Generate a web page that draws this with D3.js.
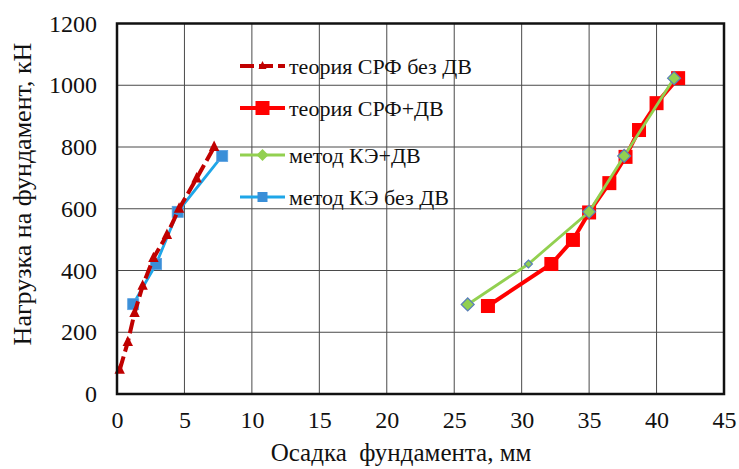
<!DOCTYPE html>
<html>
<head>
<meta charset="utf-8">
<script src="https://cdn.jsdelivr.net/npm/d3@7"></script>
<style>
  html, body { margin: 0; padding: 0; background: #fff; }
  svg { display: block; }
  svg text { font-family: 'Liberation Serif', 'DejaVu Serif', 'Noto Serif', 'FreeSerif', 'Tinos', 'Nimbus Roman', 'Times New Roman', Times, serif; fill: #111; white-space: pre; }
</style>
</head>
<body>
<svg id="chart" width="739" height="469"></svg>
<script>
// Settlement (mm) vs. load (kN) for four calculation approaches
const xTicks = [0, 5, 10, 15, 20, 25, 30, 35, 40, 45];
const yTicks = [0, 200, 400, 600, 800, 1000, 1200];

const srfNoDvX = [0.2, 0.8, 1.3, 1.9, 2.7, 3.7, 4.6, 5.9, 7.2];
const srfNoDvY = [78, 168, 262, 350, 440, 515, 600, 698, 800];

const srfDvX = [27.5, 32.2, 33.8, 35.0, 36.5, 37.7, 38.7, 40.0, 41.6];
const srfDvY = [285, 421, 499, 588, 683, 768, 855, 942, 1023];

const feDvX = [26.0, 30.5, 35.0, 37.6, 41.3];
const feDvY = [290, 421, 590, 771, 1023];

const feNoDvX = [1.2, 2.9, 4.5, 7.8];
const feNoDvY = [291, 421, 590, 771];

const seriesNames = ["теория СРФ без ДВ", "теория СРФ+ДВ", "метод КЭ+ДВ", "метод КЭ без ДВ"];

const svg = d3.select("#chart");
const x = d3.scaleLinear().domain([0, 45]).range([117, 724]);
const y = d3.scaleLinear().domain([0, 1200]).range([394, 23.5]);

// gridlines
svg.append("g").selectAll("line").data(xTicks.slice(1, -1)).join("line")
  .attr("x1", d => x(d)).attr("x2", d => x(d))
  .attr("y1", y(0)).attr("y2", y(1200))
  .attr("stroke", "#4a4a4a").attr("stroke-width", 1);
svg.append("g").selectAll("line").data(yTicks.slice(1, -1)).join("line")
  .attr("x1", x(0)).attr("x2", x(45))
  .attr("y1", d => y(d)).attr("y2", d => y(d))
  .attr("stroke", "#4a4a4a").attr("stroke-width", 1);

// axes (labels only, frame drawn separately)
const xAxis = svg.append("g").attr("transform", `translate(0,${y(0)})`)
  .call(d3.axisBottom(x).tickValues(xTicks).tickFormat(d3.format("d")).tickSize(0).tickPadding(17));
const yAxis = svg.append("g").attr("transform", `translate(${x(0)},0)`)
  .call(d3.axisLeft(y).tickValues(yTicks).tickFormat(d3.format("d")).tickSize(0).tickPadding(20));
[xAxis, yAxis].forEach(a => {
  a.attr("font-family", null).attr("font-size", 24);
  a.select(".domain").remove();
  a.selectAll("text").attr("fill", "#111");
});

const line = d3.line().x(d => x(d[0])).y(d => y(d[1]));
const zip = (a, b) => a.map((v, i) => [v, b[i]]);

const dataSrfNoDv = zip(srfNoDvX, srfNoDvY);
const dataSrfDv = zip(srfDvX, srfDvY);
const dataFeDv = zip(feDvX, feDvY);
const dataFeNoDv = zip(feNoDvX, feNoDvY);

const plot = svg.append("g");
const diamond = s => `M0,${-s}L${s},0L0,${s}L${-s},0Z`;
const tri = s => `M0,${-s}L${s * 0.8},${s * 0.6}L${-s * 0.8},${s * 0.6}Z`;

// теория СРФ+ДВ
plot.append("path").datum(dataSrfDv).attr("d", line)
  .attr("fill", "none").attr("stroke", "#ff0000").attr("stroke-width", 4);
plot.append("g").selectAll("rect").data(dataSrfDv).join("rect")
  .attr("x", d => x(d[0]) - 7).attr("y", d => y(d[1]) - 7)
  .attr("width", 14).attr("height", 14).attr("fill", "#ff0000");

// метод КЭ+ДВ
plot.append("path").datum(dataFeDv).attr("d", line)
  .attr("fill", "none").attr("stroke", "#92d050").attr("stroke-width", 2.8);
plot.append("g").selectAll("path").data(dataFeDv).join("path")
  .attr("transform", d => `translate(${x(d[0])},${y(d[1])})`)
  .attr("d", (d, i) => diamond(i === 1 ? 4 : 6.5))
  .attr("fill", "#92d050").attr("stroke", "#5a7fb8").attr("stroke-width", 1.2);

// метод КЭ без ДВ
plot.append("path").datum(dataFeNoDv).attr("d", line)
  .attr("fill", "none").attr("stroke", "#1ea6e8").attr("stroke-width", 2.8);
plot.append("g").selectAll("rect").data(dataFeNoDv).join("rect")
  .attr("x", d => x(d[0]) - 5.5).attr("y", d => y(d[1]) - 5.5)
  .attr("width", 11).attr("height", 11).attr("fill", "#3a8fd8")
  .attr("stroke", "#5aa0e0").attr("stroke-width", 0.8);

// теория СРФ без ДВ (dashed)
plot.append("path").datum(dataSrfNoDv).attr("d", line)
  .attr("fill", "none").attr("stroke", "#c00000").attr("stroke-width", 4)
  .attr("stroke-dasharray", "14,5");
plot.append("g").selectAll("path").data(dataSrfNoDv).join("path")
  .attr("transform", d => `translate(${x(d[0])},${y(d[1])})`)
  .attr("d", tri(6.5)).attr("fill", "#c00000");

// frame
svg.append("rect")
  .attr("x", x(0)).attr("y", y(1200))
  .attr("width", x(45) - x(0)).attr("height", y(0) - y(1200))
  .attr("fill", "none").attr("stroke", "#111").attr("stroke-width", 2.5);

// legend
const legend = svg.append("g").attr("font-size", 22);
const legY = [66, 108, 155, 197];
const lx1 = 240, lx2 = 285, lxm = (lx1 + lx2) / 2;
const li = legend.selectAll("g").data(seriesNames).join("g")
  .attr("transform", (d, i) => `translate(0,${legY[i]})`);
li.append("text").attr("x", 289).attr("y", 0).attr("dy", "0.35em").text(d => d);

const legStyle = [
  { c: "#c00000", w: 4, dash: "14,5" },
  { c: "#ff0000", w: 4, dash: null },
  { c: "#92d050", w: 2.8, dash: null },
  { c: "#1ea6e8", w: 2.8, dash: null }
];
li.append("line").attr("x1", lx1).attr("x2", lx2).attr("y1", 0).attr("y2", 0)
  .attr("stroke", (d, i) => legStyle[i].c).attr("stroke-width", (d, i) => legStyle[i].w)
  .attr("stroke-dasharray", (d, i) => legStyle[i].dash);

li.filter((d, i) => i === 0).append("path").attr("transform", `translate(${lxm},0)`)
  .attr("d", tri(5)).attr("fill", "#c00000");
li.filter((d, i) => i === 1).append("rect").attr("x", lxm - 7).attr("y", -7)
  .attr("width", 14).attr("height", 14).attr("fill", "#ff0000");
li.filter((d, i) => i === 2).append("path").attr("transform", `translate(${lxm},0)`)
  .attr("d", diamond(6)).attr("fill", "#92d050");
li.filter((d, i) => i === 3).append("rect").attr("x", lxm - 5).attr("y", -5)
  .attr("width", 10).attr("height", 10).attr("fill", "#3a8fd8");

// axis titles
svg.append("text").attr("x", 401).attr("y", 461).attr("text-anchor", "middle")
  .attr("font-size", 25).text("Осадка  фундамента, мм");
svg.append("text").attr("transform", `translate(31,194) rotate(-90)`).attr("text-anchor", "middle")
  .attr("font-size", 26).text("Нагрузка на фундамент, кН");
</script>
</body>
</html>
